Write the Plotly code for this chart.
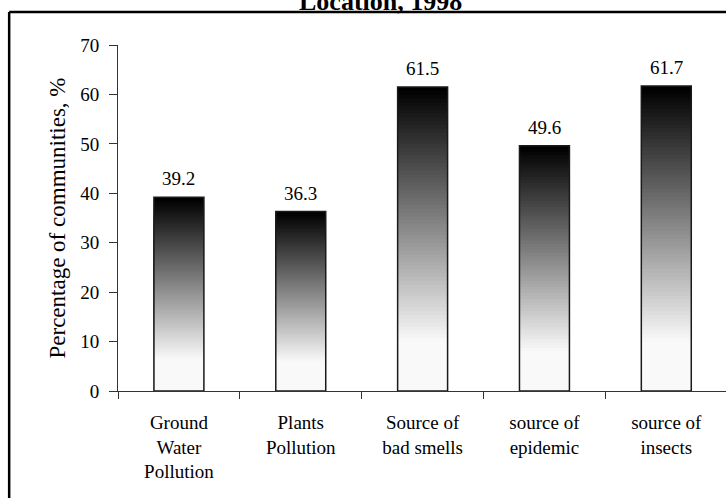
import plotly.graph_objects as go

# data
categories = [
    "Ground<br>Water<br>Pollution",
    "Plants<br>Pollution",
    "Source of<br>bad smells",
    "source of<br>epidemic",
    "source of<br>insects",
]
values = [39.2, 36.3, 61.5, 49.6, 61.7]
value_labels = ["39.2", "36.3", "61.5", "49.6", "61.7"]

TITLE = "Location, 1998"
Y_TITLE = "Percentage of communities, %"
FONT = "Liberation Serif"
N_STEPS = 80  # slices used to fake the vertical black-to-white fill


def gray_at(frac_from_top):
    level = int(min(249, 300 * frac_from_top))
    return f"rgb({level},{level},{level})"


fig = go.Figure()

# gradient fill: full-height bar first, then shorter and lighter ones on top of it,
# so every slice starts at zero and no seams show between them
for i in range(N_STEPS):
    frac = 1 - i / N_STEPS
    fig.add_trace(go.Bar(
        x=categories,
        y=[v * frac for v in values],
        marker=dict(color=gray_at(i / N_STEPS), line=dict(width=0)),
        hoverinfo="skip",
        showlegend=False,
    ))

# outline over the whole bar
fig.add_trace(go.Bar(
    x=categories,
    y=values,
    marker=dict(color="rgba(0,0,0,0)", line=dict(color="#1a1a1a", width=1.5)),
    hovertemplate="%{x}: %{y}<extra></extra>",
    showlegend=False,
))

for cat, v, lab in zip(categories, values, value_labels):
    fig.add_annotation(
        x=cat, y=v, text=lab, showarrow=False,
        yanchor="bottom", yshift=6,
        font=dict(family=FONT, size=19, color="black"),
    )

fig.add_annotation(
    xref="paper", yref="paper", x=0.431, y=1.078,
    text=f"<b>{TITLE}</b>", showarrow=False,
    xanchor="center", yanchor="bottom",
    font=dict(family=FONT, size=26, color="black"),
)

# frame around the chart: only its top and left edges fall inside the window
frame = dict(color="black", width=2.5)
fig.add_shape(type="line", xref="paper", yref="paper",
              x0=-0.179, x1=1.0, y0=1.0954, y1=1.0954, line=frame)
fig.add_shape(type="line", xref="paper", yref="paper",
              x0=-0.179, x1=-0.179, y0=-0.31, y1=1.0954, line=frame)

fig.update_layout(
    width=726,
    height=498,
    margin=dict(l=118, r=0, t=45, b=107),
    barmode="overlay",
    bargap=0.59,
    plot_bgcolor="white",
    paper_bgcolor="white",
    font=dict(family=FONT, size=19, color="black"),
)
fig.update_xaxes(
    type="category",
    range=[-0.5, 4.49],
    tickson="boundaries",
    ticks="outside",
    ticklen=7,
    tickcolor="#333",
    showline=True,
    linecolor="#333",
    linewidth=1,
    showgrid=False,
    ticklabelstandoff=14,
    tickfont=dict(family=FONT, size=19),
)
fig.update_yaxes(
    range=[0, 70],
    dtick=10,
    ticks="outside",
    ticklen=8,
    tickcolor="#333",
    showline=True,
    linecolor="#333",
    linewidth=1,
    showgrid=False,
    zeroline=False,
    ticklabelstandoff=6,
    tickfont=dict(family=FONT, size=19),
    title=dict(text=Y_TITLE, font=dict(family=FONT, size=23), standoff=8),
)

# the page's default body margin would shift the whole figure by 8px
fig.write_html(
    "out.html",
    config={"displayModeBar": False},
    post_script="document.body.style.margin='0';document.body.style.overflow='hidden';",
)
